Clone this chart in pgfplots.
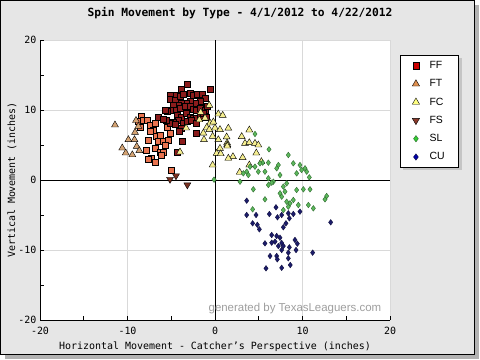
\documentclass[border=0pt]{standalone}
\usepackage{fontspec}
\setmonofont{DejaVu Sans Mono}
\newfontfamily\wm{Liberation Sans}
\usepackage{pgfplots}
\pgfplotsset{compat=1.18}
\usetikzlibrary{shadows}
\definecolor{bgg}{HTML}{E6E6E6}
\definecolor{ffc}{HTML}{8B1C1C}
\definecolor{orc}{HTML}{E8734F}
\definecolor{ftc}{HTML}{D4A373}
\definecolor{fcc}{HTML}{F5EE90}
\definecolor{fsc}{HTML}{7A3020}
\definecolor{slc}{HTML}{5CB85C}
\definecolor{sld}{HTML}{2E6B2E}
\definecolor{cuc}{HTML}{1C1C6B}
\definecolor{cud}{HTML}{10103F}
\definecolor{lff}{HTML}{CC0000}
\definecolor{lft}{HTML}{E09050}
\definecolor{lfc}{HTML}{FFFF80}
\definecolor{lfs}{HTML}{8B3A2A}
\definecolor{lsl}{HTML}{33CC33}
\definecolor{lcu}{HTML}{0000AA}
\begin{document}
\begin{tikzpicture}
\fill[white] (0,0) rectangle (480bp,360bp);
\fill[gray!60] (5bp,1bp) rectangle (479bp,355bp);
\filldraw[fill=bgg, draw=black, line width=0.8bp] (0.5bp,6bp) rectangle (474bp,359.5bp);
\node[font=\ttfamily\bfseries\fontsize{11.3}{13}\selectfont] at (240bp,347bp) {Spin Movement by Type - 4/1/2012 to 4/22/2012};
\begin{axis}[
  at={(40bp,40bp)}, anchor=south west,
  scale only axis, width=350bp, height=280bp,
  xmin=-20, xmax=20, ymin=-20, ymax=20,
  axis x line*=bottom, axis y line*=left,
  axis line style={line width=0.8bp},
  xtick={-20,-10,0,10,20}, ytick={-20,-10,0,10,20},
  minor xtick={-15,-5,5,15}, minor ytick={-15,-5,5,15},
  tick align=inside,
  major tick length=4bp, minor tick length=4bp,
  tick style={black, line width=0.6bp},
  grid=major, grid style={gray!30, line width=0.6bp},
  axis background/.style={fill=white},
  /pgf/number format/assume math mode=true,
  ticklabel style={font=\ttfamily\fontsize{10}{12}\selectfont},
  xlabel={Horizontal Movement - Catcher’s Perspective (inches)},
  ylabel={Vertical Movement (inches)},
  label style={font=\ttfamily\fontsize{10}{12}\selectfont},
  xlabel style={at={(0.5,0)}, anchor=center, yshift=-27bp},
  ylabel style={at={(0,0.5)}, anchor=center, xshift=0bp, yshift=28bp},
  xticklabel style={yshift=-4bp},
  legend style={at={(1.0286,0.946)}, anchor=north west, draw=black, fill=white,
    line width=0.6bp,
    font=\wm\fontsize{10.5}{12}\selectfont,
    drop shadow={shadow xshift=3bp, shadow yshift=-3bp, fill=gray!70},
    inner xsep=12bp, inner ysep=4bp, row sep=5.5bp,
    /tikz/every odd column/.append style={column sep=8bp}},
  legend cell align=left,
]
\addlegendimage{only marks, mark=square*, mark size=3.2bp, mark options={fill=lff, draw=black, line width=0.4bp}}
\addlegendentry{FF}
\addlegendimage{only marks, mark=triangle*, mark size=4.2bp, mark options={fill=lft, draw=black, line width=0.4bp}}
\addlegendentry{FT}
\addlegendimage{only marks, mark=triangle*, mark size=4.2bp, mark options={fill=lfc, draw=black, line width=0.4bp}}
\addlegendentry{FC}
\addlegendimage{only marks, mark=triangle*, mark size=4.2bp, mark options={fill=lfs, draw=black, line width=0.4bp, rotate=180}}
\addlegendentry{FS}
\addlegendimage{only marks, mark=diamond*, mark size=3.2bp, mark options={fill=lsl, draw=sld, line width=0.4bp}}
\addlegendentry{SL}
\addlegendimage{only marks, mark=diamond*, mark size=3.2bp, mark options={fill=lcu, draw=cud, line width=0.4bp}}
\addlegendentry{CU}
\draw[black, line width=0.8bp] (axis cs:0,-20) -- (axis cs:0,20);
\draw[black, line width=0.8bp] (axis cs:-20,0) -- (axis cs:20,0);
% orange squares
\addplot[forget plot, only marks, mark=square*, mark size=3bp, mark options={fill=orc, draw=black, line width=0.4bp}] coordinates {
(-8.38,9.05) (-8.76,8.33) (-8.19,8.57) (-7.80,8.57) (-8.57,7.6) (-7.43,7.86) (-6.86,8.1)
(-7.05,7.14) (-7.43,6.9) (-7.62,5.7) (-6.67,6.2) (-6.29,6.4) (-6.48,5.5) (-5.90,5.5)
(-5.33,5.7) (-5.71,5.0) (-5.14,6.7) (-7.81,4.3) (-6.86,4.5) (-6.29,4.0) (-5.90,4.0)
(-6.10,3.6) (-7.24,3.1) (-7.62,2.9) (-6.86,2.6) (-4.95,1.33) (-5.52,7.6)
};
% FT
\addplot[forget plot, only marks, mark=triangle*, mark size=4bp, mark options={fill=ftc, draw=black, line width=0.4bp}] coordinates {
(-11.43,7.86) (-9.03,8.5) (-8.76,7.67) (-9.14,6.8) (-9.90,5.76) (-9.20,5.76) (-8.95,4.8)
(-10.60,4.57) (-10.20,3.86) (-9.45,3.6) (-8.65,4.2)
};
% FF
\addplot[forget plot, only marks, mark=square*, mark size=3bp, mark options={fill=ffc, draw=black, line width=0.4bp}] coordinates {
(-3.16,13.7) (-3.81,12.9) (-4.46,12.1) (-5.14,12.1) (-5.14,11.5) (-4.57,11.4) (-4.00,11.9)
(-3.62,12.3) (-2.86,12.4) (-2.48,12.1) (-2.02,12.2) (-1.45,12.3) (-1.14,11.7) (-0.57,12.9)
(-1.71,11.2) (-2.29,11.0) (-2.86,11.2) (-3.24,11.0) (-3.81,11.0) (-4.19,10.7) (-4.76,10.7)
(-5.14,10.0) (-5.45,9.8) (-5.71,10.0) (-4.38,10.0) (-4.00,10.2) (-3.43,10.5) (-2.86,10.5)
(-2.48,10.1) (-2.10,9.9) (-1.71,10.2) (-1.14,10.0) (-0.88,10.6) (-4.30,9.3) (-3.81,9.0)
(-3.24,9.5) (-2.86,9.0) (-2.48,8.8) (-2.10,8.8) (-1.71,9.0) (-1.33,9.5) (-0.95,9.0)
(-4.19,8.6) (-4.76,8.3) (-5.14,8.1) (-5.60,8.5) (-4.57,7.9) (-3.62,8.1) (-3.16,8.4)
(-2.74,8.6) (-2.10,8.1) (-3.81,7.4) (-4.08,7.0) (-3.70,5.6) (-2.10,6.7) (-6.48,9.0)
(-5.90,8.7) (-4.30,4.0)
};
% FS
\addplot[forget plot, only marks, mark=triangle*, mark size=4bp, mark options={fill=fsc, draw=black, line width=0.4bp, rotate=180}] coordinates {
(-5.14,0.1) (-4.46,0.6) (-3.16,-0.7)
};
% FC
\addplot[forget plot, only marks, mark=triangle*, mark size=4bp, mark options={fill=fcc, draw=black, line width=0.4bp}] coordinates {
(-0.65,10.67) (-1.64,9.67) (-1.14,8.86) (-1.79,8.6) (-0.57,8.14) (0.38,9.43) (0.88,9.24)
(-0.19,8.29) (-0.95,7.5) (-0.65,7.2) (0.00,7.43) (0.57,7.2) (1.52,7.40) (-0.27,6.24)
(-1.26,5.76) (-1.33,6.7) (0.38,5.76) (1.33,6.15) (1.38,5.3) (1.40,5.05) (1.40,4.85)
(0.57,4.52) (0.19,3.8) (0.65,3.75) (2.05,3.33) (1.52,3.1) (3.16,3.2) (3.92,7.14)
(3.05,6.2) (3.43,5.24) (3.92,5.33) (4.57,5.24) (4.95,5.0) (4.72,3.85) (3.92,2.14)
(5.30,2.62) (2.82,1.1) (-0.27,2.14) (-3.30,7.43) (-4.00,4.0)
};
% SL
\addplot[forget plot, only marks, mark=diamond*, mark size=2.8bp, mark options={fill=slc, draw=sld, line width=0.4bp}] coordinates {
(4.57,6.57) (6.17,4.38) (8.38,3.57) (8.95,2.38) (9.71,2.14) (10.29,1.67) (10.48,1.19)
(10.78,0.38) (7.24,2.14) (7.05,1.67) (7.43,0.71) (9.33,0.95) (9.90,1.43) (5.45,2.48)
(6.10,2.48) (5.14,2.38) (4.57,1.90) (4.00,1.90) (3.62,1.19) (3.24,0.95) (3.81,0.71)
(4.95,1.19) (5.71,1.19) (6.10,0.24) (6.67,-0.24) (6.48,-0.38) (6.10,-0.71) (2.86,-0.24)
(4.38,-1.33) (-0.11,0.05) (8.19,-0.48) (7.81,-0.95) (8.00,-1.67) (7.43,-1.90) (7.62,-2.38)
(9.33,-1.43) (10.10,-1.33) (10.86,-1.33) (12.76,-2.29) (12.57,-2.76) (10.67,-3.57) (11.24,-4.05)
(8.19,-3.10) (8.57,-3.33) (8.95,-2.86) (8.38,-3.81) (5.71,-2.76) (4.30,-4.19) (7.81,-4.29)
(9.52,-3.57)
};
% CU
\addplot[forget plot, only marks, mark=diamond*, mark size=2.8bp, mark options={fill=cuc, draw=cud, line width=0.4bp}] coordinates {
(3.62,-2.95) (3.62,-5.0) (4.69,-5.0) (6.21,-4.86) (6.97,-3.9) (7.62,-5.0) (7.14,-5.33)
(8.38,-4.76) (8.95,-4.86) (9.71,-4.52) (8.50,-5.48) (8.11,-6.19) (7.81,-6.76) (4.30,-6.19)
(4.84,-6.40) (5.07,-7.05) (13.22,-6.05) (6.48,-7.86) (7.05,-8.00) (7.43,-8.25) (6.86,-8.81)
(6.48,-8.95) (5.71,-9.05) (7.62,-9.0) (7.81,-9.43) (7.24,-9.43) (7.62,-10.0) (8.50,-9.62)
(9.14,-8.57) (9.41,-9.10) (9.26,-10.0) (8.38,-10.38) (11.16,-10.38) (6.29,-10.86) (7.05,-10.86)
(7.12,-11.33) (8.38,-11.19) (8.60,-12.14) (7.62,-12.55) (5.83,-12.62)
};
\node[anchor=east, text=gray!75, font=\wm\fontsize{11.5}{13}\selectfont] at (axis cs:19.4,-18.3) {generated by TexasLeaguers.com};
\end{axis}
\end{tikzpicture}
\end{document}
